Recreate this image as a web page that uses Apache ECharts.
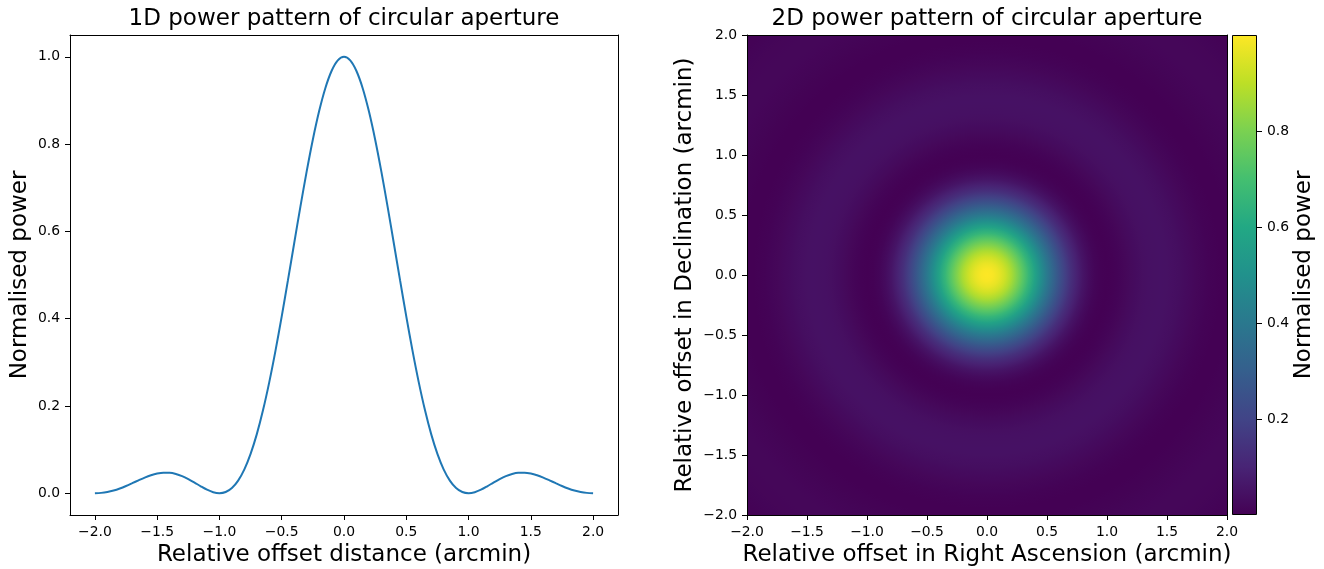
<!DOCTYPE html>
<html>
<head>
<meta charset="utf-8">
<title>Circular aperture power pattern</title>
<script src="https://cdn.jsdelivr.net/npm/echarts@6/dist/echarts.min.js"></script>
<style>
  html, body { margin: 0; padding: 0; background: #fff; }
  #chart { width: 1324px; height: 569px; }
</style>
</head>
<body>
<div id="chart"></div>
<script>
// Radial offset from beam centre (arcmin) and normalised power at that offset.
const radialOffset = [
  0.00, 0.05, 0.10, 0.15, 0.20, 0.25, 0.30, 0.35, 0.40, 0.45,
  0.50, 0.55, 0.60, 0.65, 0.70, 0.75, 0.80, 0.85, 0.90, 0.95,
  1.00, 1.05, 1.10, 1.15, 1.20, 1.25, 1.30, 1.35, 1.40, 1.45,
  1.50, 1.55, 1.60, 1.65, 1.70, 1.75, 1.80, 1.85, 1.90, 1.95,
  2.00, 2.05, 2.10, 2.15, 2.20, 2.25, 2.30, 2.35, 2.40, 2.45,
  2.50, 2.55, 2.60, 2.65, 2.70, 2.75, 2.80, 2.85
];
const radialPower = [
  1.0000, 0.9918, 0.9675, 0.9281, 0.8751, 0.8106, 0.7368, 0.6566, 0.5728, 0.4881,
  0.4053, 0.3267, 0.2546, 0.1904, 0.1353, 0.0901, 0.0547, 0.0289, 0.0119, 0.0027,
  0.0000, 0.0022, 0.0080, 0.0158, 0.0243, 0.0324, 0.0392, 0.0441, 0.0468, 0.0470,
  0.0450, 0.0411, 0.0358, 0.0295, 0.0229, 0.0165, 0.0108, 0.0061, 0.0027, 0.0007,
  0.0000, 0.0006, 0.0022, 0.0045, 0.0072, 0.0100, 0.0125, 0.0146, 0.0159, 0.0165,
  0.0162, 0.0152, 0.0136, 0.0115, 0.0091, 0.0067, 0.0045, 0.0026
];

// Tick positions
const lineXTicks = [-2.0, -1.5, -1.0, -0.5, 0.0, 0.5, 1.0, 1.5, 2.0];
const lineYTicks = [0.0, 0.2, 0.4, 0.6, 0.8, 1.0];
const colorbarTicks = [0.2, 0.4, 0.6, 0.8];

const titles = ['1D power pattern of circular aperture', '2D power pattern of circular aperture'];

// viridis colour stops
const viridis = ['#440154', '#482475', '#414487', '#355f8d', '#2a788e', '#21918c',
                 '#22a884', '#44bf70', '#7ad151', '#bddf26', '#fde725'];

// 1D cut through the centre: mirror the radial profile out to +/-2 arcmin
const lineData = [];
for (let i = radialOffset.length - 1; i >= 1; i--) {
  if (radialOffset[i] <= 2.0) lineData.push([-radialOffset[i], radialPower[i]]);
}
for (let i = 0; i < radialOffset.length; i++) {
  if (radialOffset[i] <= 2.0) lineData.push([radialOffset[i], radialPower[i]]);
}
const radialData = radialOffset.map((r, i) => [r, radialPower[i]]);

const FONT = 'DejaVu Sans';
const BIG = 23;
const fmt = v => (v < 0 ? '\u2212' : '') + Math.abs(v).toFixed(1);
const tickFont = { fontFamily: FONT, fontSize: 13.9, color: '#000' };
const nameFont = { fontFamily: FONT, fontSize: BIG, color: '#000' };
const lineStyleBlack = { color: '#000', width: 1 };
const tickStyle = { show: true, inside: false, length: 5, lineStyle: { color: '#000', width: 1 } };
const spine = { show: true, onZero: false, lineStyle: lineStyleBlack };

const chart = echarts.init(document.getElementById('chart'), null, { renderer: 'canvas' });

const option = {
  animation: false,
  backgroundColor: '#fff',
  graphic: [
    { type: 'text', x: 344, y: 19, style: { text: titles[0], fontFamily: FONT, fontSize: BIG, fill: '#000', align: 'center', verticalAlign: 'middle' } },
    { type: 'text', x: 987, y: 19, style: { text: titles[1], fontFamily: FONT, fontSize: BIG, fill: '#000', align: 'center', verticalAlign: 'middle' } }
  ],
  grid: [
    { left: 70, top: 35, width: 548, height: 480, show: false, outerBoundsMode: 'none', containLabel: false },
    { left: 747, top: 35, width: 480, height: 480, show: false, outerBoundsMode: 'none', containLabel: false },
    { left: 1232, top: 35, width: 25, height: 480, show: false, outerBoundsMode: 'none', containLabel: false }
  ],
  visualMap: [{
    type: 'continuous', show: false, seriesIndex: 1, dimension: 1,
    min: 0, max: 1, inRange: { color: viridis }
  }],
  xAxis: [
    {
      gridIndex: 0, type: 'value', min: -2.2, max: 2.2, z: 10,
      name: 'Relative offset distance (arcmin)', nameLocation: 'middle', nameGap: 27, nameTextStyle: nameFont,
      axisLine: spine,
      axisTick: Object.assign({}, tickStyle, { customValues: lineXTicks }),
      axisLabel: Object.assign({}, tickFont, { margin: 10, customValues: lineXTicks, formatter: fmt }),
      splitLine: { show: false }
    },
    {
      gridIndex: 1, type: 'value', min: -2, max: 2, interval: 0.5, z: 10,
      name: 'Relative offset in Right Ascension (arcmin)', nameLocation: 'middle', nameGap: 27, nameTextStyle: nameFont,
      axisLine: spine,
      axisTick: tickStyle,
      axisLabel: Object.assign({}, tickFont, { margin: 10, formatter: fmt, showMinLabel: true, showMaxLabel: true }),
      splitLine: { show: false }
    },
    {
      gridIndex: 1, type: 'value', min: -2, max: 2, position: 'top', z: 10,
      axisLine: spine,
      axisTick: { show: false }, axisLabel: { show: false }, splitLine: { show: false }
    },
    {
      gridIndex: 2, type: 'category', data: ['colorbar'],
      axisLine: { show: false }, axisTick: { show: false }, axisLabel: { show: false }, splitLine: { show: false }
    },
    {
      gridIndex: 0, type: 'value', min: -2.2, max: 2.2, position: 'top', z: 10,
      axisLine: spine,
      axisTick: { show: false }, axisLabel: { show: false }, splitLine: { show: false }
    }
  ],
  yAxis: [
    {
      gridIndex: 0, type: 'value', min: -0.05, max: 1.05, z: 10,
      name: 'Normalised power', nameLocation: 'middle', nameGap: 38.5, nameRotate: 90, nameTextStyle: nameFont,
      axisLine: spine,
      axisTick: Object.assign({}, tickStyle, { customValues: lineYTicks }),
      axisLabel: Object.assign({}, tickFont, { margin: 10, customValues: lineYTicks, formatter: fmt }),
      splitLine: { show: false }
    },
    {
      gridIndex: 1, type: 'value', min: -2, max: 2, interval: 0.5, z: 10,
      name: 'Relative offset in Declination (arcmin)', nameLocation: 'middle', nameGap: 50.5, nameRotate: 90, nameTextStyle: nameFont,
      axisLine: spine,
      axisTick: tickStyle,
      axisLabel: Object.assign({}, tickFont, { margin: 10, formatter: fmt, showMinLabel: true, showMaxLabel: true }),
      splitLine: { show: false }
    },
    {
      gridIndex: 1, type: 'value', min: -2, max: 2, position: 'right', z: 10,
      axisLine: spine,
      axisTick: { show: false }, axisLabel: { show: false }, splitLine: { show: false }
    },
    {
      gridIndex: 2, type: 'value', min: 0, max: 1, position: 'right',
      name: 'Normalised power', nameLocation: 'middle', nameGap: 30.5, nameRotate: 90, nameTextStyle: nameFont,
      axisLine: { show: false },
      axisTick: Object.assign({}, tickStyle, { customValues: colorbarTicks }),
      axisLabel: Object.assign({}, tickFont, { margin: 10, customValues: colorbarTicks, formatter: v => v.toFixed(1) }),
      splitLine: { show: false }
    },
    {
      gridIndex: 0, type: 'value', min: -0.05, max: 1.05, position: 'right', z: 10,
      axisLine: spine,
      axisTick: { show: false }, axisLabel: { show: false }, splitLine: { show: false }
    }
  ],
  series: [
    {
      // 1D power pattern
      type: 'line', xAxisIndex: 0, yAxisIndex: 0,
      data: lineData, showSymbol: false, smooth: 0.3,
      lineStyle: { color: '#1f77b4', width: 2 }, silent: true
    },
    {
      // 2D power pattern: concentric discs, one per radial sample,
      // shaded from the previous sample's colour to this sample's colour
      type: 'custom', xAxisIndex: 1, yAxisIndex: 1, coordinateSystem: 'cartesian2d',
      clip: true, silent: true, progressive: 0,
      data: radialData,
      renderItem: function (params, api) {
        const k = params.dataIndexInside;
        if (k === 0) return null;
        const c = api.coord([0, 0]);
        const rOut = api.size([api.value(0), 0])[0];
        const rIn = api.size([api.value(0, k - 1), 0])[0];
        const colIn = api.visual('color', k - 1);
        const colOut = api.visual('color');
        return {
          type: 'circle',
          z2: 1000 - k,
          shape: { cx: c[0], cy: c[1], r: rOut },
          style: {
            fill: {
              type: 'radial', x: c[0], y: c[1], r: rOut, global: true,
              colorStops: [
                { offset: 0, color: colIn },
                { offset: rIn / rOut, color: colIn },
                { offset: 1, color: colOut }
              ]
            },
            stroke: null
          }
        };
      }
    },
    {
      // colour bar
      type: 'bar', xAxisIndex: 3, yAxisIndex: 3,
      data: [1], barWidth: '100%', silent: true,
      itemStyle: {
        borderColor: '#000', borderWidth: 1,
        color: {
          type: 'linear', x: 0, y: 1, x2: 0, y2: 0,
          colorStops: viridis.map((c, i) => ({ offset: i / (viridis.length - 1), color: c }))
        }
      }
    }
  ]
};

chart.setOption(option);
</script>
</body>
</html>
